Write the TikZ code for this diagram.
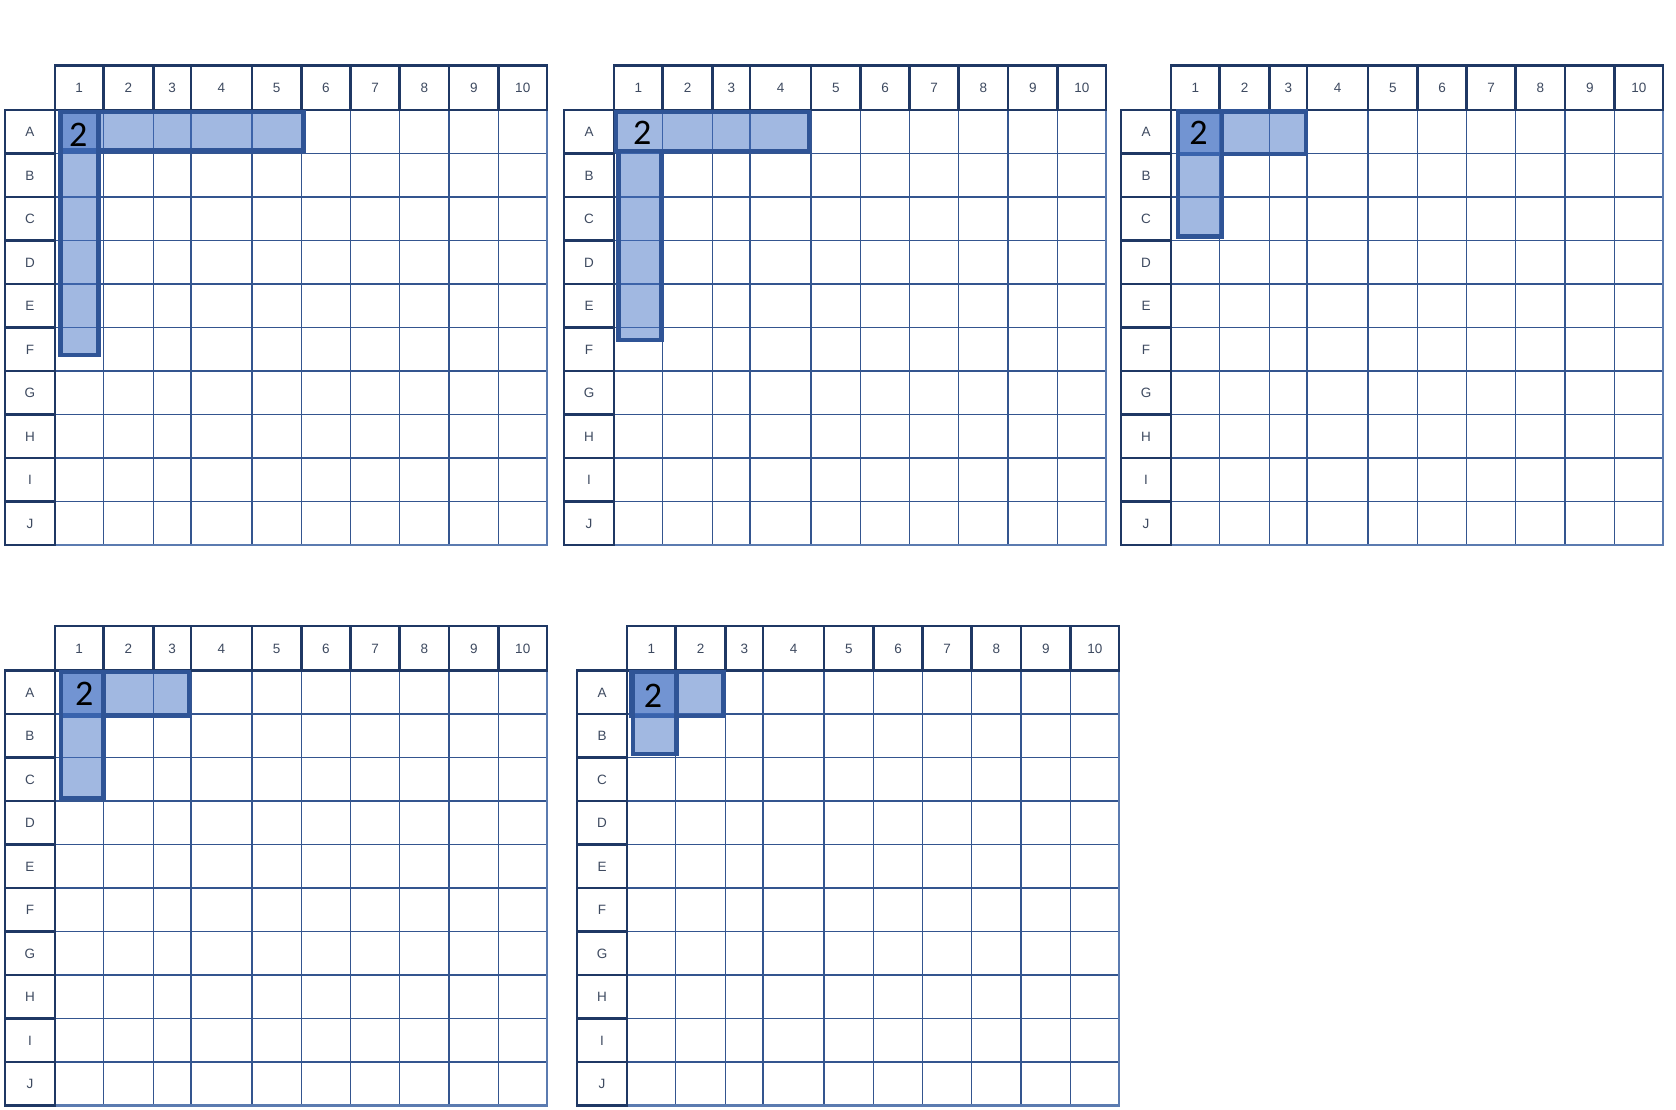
\documentclass[tikz,border=0pt]{standalone}
\usepackage{fontspec}
\setmainfont{Liberation Sans}
\newfontfamily\carlito{Carlito}
\definecolor{hdrline}{HTML}{1F3864}
\definecolor{bodyline}{HTML}{34558F}
\definecolor{edgeline}{HTML}{5B7BB0}
\definecolor{hlblue}{HTML}{4472C4}
\definecolor{hlborder}{HTML}{2F5496}
\definecolor{lbl}{HTML}{3E4A60}
\tikzset{
  hdr/.style={draw=hdrline, line width=2.4pt},
  body/.style={draw=bodyline, line width=1.5pt},
  edge/.style={draw=edgeline, line width=2.2pt},
  lab/.style={font=\fontsize{13.5}{14}\selectfont, text=lbl, inner sep=0pt, text height=9.7pt, text depth=0pt},
  hlbox/.style={fill=hlblue, fill opacity=0.5, draw=hlborder, draw opacity=1, line width=4.4pt},
  two/.style={font=\carlito\fontsize{36}{40}\selectfont, text=black, inner sep=0pt},
}
\newcommand\drawgrid[3]{%
\begin{scope}[shift={(#1,#2)}]
  \foreach \k in {1,...,9}{\draw[body] (50,44.5+43.5*\k) -- (542,44.5+43.5*\k);}
  \foreach \xx in {98.5,148.5,186,247,296.5,345.5,394.5,444,493.5}{\draw[body] (\xx,44.5) -- (\xx,479.5);}
  \draw[edge] (542,44.5) -- (542,479.5) -- (50,479.5);
  \foreach \a/\b/\n in {50/98.5/1,98.5/148.5/2,148.5/186/3,186/247/4,247/296.5/5,296.5/345.5/6,345.5/394.5/7,394.5/444/8,444/493.5/9,493.5/542/10}{
    \draw[hdr] (\a,0) rectangle (\b,44.5);
    \node[lab] (#3c\n) at ({(\a+\b)/2},22.25) {\n};
  }
  \foreach \r [count=\k from 0] in {A,B,C,D,E,F,G,H,I,J}{
    \draw[hdr] (0,44.5+43.5*\k) rectangle (50,88+43.5*\k);
    \node[lab] (#3r\r) at (25,66.25+43.5*\k) {\r};
  }
\end{scope}}
\begin{document}
\begin{tikzpicture}[x=1pt,y=-1pt]
\useasboundingbox (0,0) rectangle (1676,1109);
\fill[white] (0,0) rectangle (1676,1109);
\drawgrid{5}{65.5}{ga}
\drawgrid{564}{65.5}{gb}
\drawgrid{1121}{65.5}{gc}
\drawgrid{5}{626}{gd}
\drawgrid{577}{626}{ge}
% grid 1
\begin{scope}[shift={(5,65.5)}]
  \path[hlbox] (55.3,46.5) rectangle (298.5,85);
  \path[hlbox] (55.3,46.5) rectangle (93.5,289.5);
  \node[two] (gatwo) at (73.3,69) {2};
\end{scope}
% grid 2
\begin{scope}[shift={(564,65.5)}]
  \path[hlbox] (51.9,46.5) rectangle (244.8,85.3);
  \path[hlbox] (54.5,85.5) rectangle (97.5,274.3);
  \node[two] (gbtwo) at (78.2,67) {2};
\end{scope}
% grid 3
\begin{scope}[shift={(1121,65.5)}]
  \path[hlbox] (57,45.8) rectangle (185,88.3);
  \path[hlbox] (57,45.8) rectangle (101,171);
  \node[two] (gctwo) at (77.5,67.5) {2};
\end{scope}
% grid 4
\begin{scope}[shift={(5,626)}]
  \path[hlbox] (55.9,46) rectangle (183.7,89.3);
  \path[hlbox] (55.9,46) rectangle (98.3,171.8);
  \node[two] (gdtwo) at (79.3,67.8) {2};
\end{scope}
% grid 5
\begin{scope}[shift={(577,626)}]
  \path[hlbox] (53.9,46) rectangle (146.4,90.2);
  \path[hlbox] (55.7,46) rectangle (99.5,128.2);
  \node[two] (getwo) at (76,69.5) {2};
\end{scope}
\end{tikzpicture}
\end{document}
